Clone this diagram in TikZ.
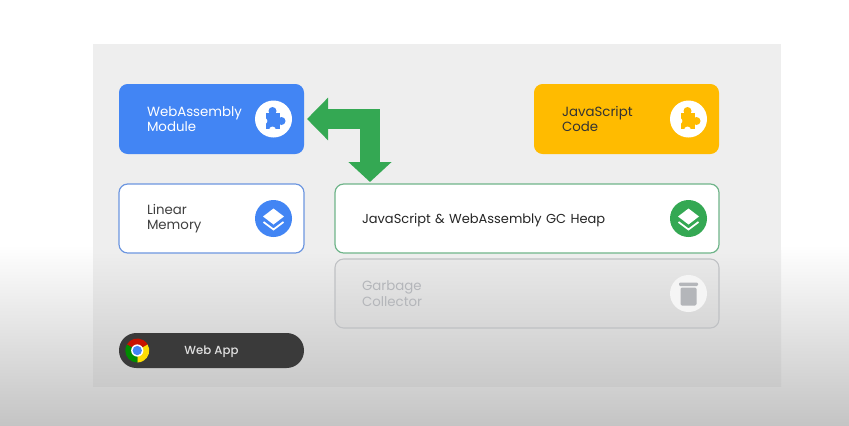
\documentclass[tikz,border=0pt]{standalone}
\usepackage{fontspec}
\setmainfont{Poppins}
\newfontfamily\appfont{Poppins Medium}
\usepackage{xcolor}
\usetikzlibrary{positioning,arrows.meta,calc}
\definecolor{wasmblue}{HTML}{4285F4}
\definecolor{jsyellow}{HTML}{FFBB00}
\definecolor{heapgreen}{HTML}{34A853}
\definecolor{heapline}{HTML}{6FB58A}
\definecolor{memline}{HTML}{6C96E0}
\definecolor{gcline}{HTML}{BFC1C4}
\definecolor{gctext}{HTML}{B4B6BA}
\definecolor{pillgrey}{HTML}{3A3A3A}
\begin{document}
\begin{tikzpicture}[
  x=0.75pt,y=-0.75pt,
  card/.style={rounded corners=6.5pt,minimum height=52.5pt,minimum width=138.75pt,text width=96.75pt,inner xsep=21pt,inner ysep=0pt,outer sep=0pt,align=left,font=\fontsize{10}{11.7}\selectfont},
  thin card/.style={card,minimum height=51.75pt},
  wide/.style={thin card,minimum width=288pt,text width=247.5pt,inner xsep=20.25pt},
  iconbg/.style={circle,minimum size=27.75pt,inner sep=0pt,outer sep=0pt},
  flow/.style={{Triangle[length=15.75pt,width=31pt]}-{Triangle[length=15pt,width=31.5pt]},heapgreen,line width=15.5pt,shorten <=2.25pt},
  pics/puzzle/.style={code={
    \fill[#1] (-8,-6) rectangle (6,10);
    \fill[#1] (-1,-8) circle[radius=3pt];
    \fill[#1] (8,2) circle[radius=3pt];
    \fill[white] (-1,11) circle[radius=2.6pt];
    \fill[white] (-9,2) circle[radius=2.2pt];
  }},
  pics/layers/.style={code={
    \fill[white] (0,-10) -- (10.5,-2) -- (0,6) -- (-10.5,-2) -- cycle;
    \draw[white,line width=1.3pt] (-10,3.5) -- (0,11) -- (10,3.5);
  }},
  pics/trash/.style={code={
    \fill[gctext,rounded corners=1pt] (-8,-6) rectangle (8,12);
    \fill[gctext,rounded corners=0.8pt] (-9.5,-11) rectangle (9.5,-7.5);
  }},
  pics/chromeball/.style={code={
    \fill[red!75!black!85!orange] (0,0) -- (150:9pt) arc[start angle=150,end angle=30,radius=9pt] -- cycle;
    \fill[yellow!80!orange] (0,0) -- (30:9pt) arc[start angle=30,end angle=-90,radius=9pt] -- cycle;
    \fill[green!55!black] (0,0) -- (-90:9pt) arc[start angle=-90,end angle=-210,radius=9pt] -- cycle;
    \fill[white] (0,0) circle[radius=4.6pt];
    \fill[wasmblue] (0,0) circle[radius=3.5pt];
  }}
]
\useasboundingbox (0,0) rectangle (849,425);
% backdrop
\fill[white] (0,0) rectangle (849,246);
\shade[top color=white,bottom color=black!23] (0,245) rectangle (849,425);
\fill[black!6.5] (93,44) rectangle (781,251);
\shade[top color=black!6.5,bottom color=black!21] (93,250) rectangle (781,386);

% cards
\node[card,fill=wasmblue,text=white,anchor=north west] (wasm) at (119,84) {WebAssembly\\Module};
\node[card,fill=jsyellow,text=black!80,right=172.5pt of wasm] (js) {JavaScript\\Code};
\node[thin card,fill=white,draw=memline,line width=0.9pt,text=black!75,below=22.5pt of wasm] (mem) {Linear\\Memory};
\node[wide,fill=white,draw=heapline,line width=0.9pt,text=black!85,text depth=0pt,font=\fontsize{9.75}{11.7}\selectfont,right=23.25pt of mem] (heap) {JavaScript \& WebAssembly GC Heap};
\node[wide,top color=black!9,bottom color=black!16,draw=gcline,line width=0.8pt,text=gctext,below=4.5pt of heap] (gc) {Garbage\\Collector};
\node[rounded corners=13pt,fill=pillgrey,minimum height=26.25pt,minimum width=138.75pt,inner sep=0pt,outer sep=0pt,text=black!12,text depth=0pt,font=\fontsize{8.8}{11}\appfont,below=60pt of mem] (app) {Web App};

% icons
\node[iconbg,fill=white,left=9pt of wasm.east,anchor=east] (wasmicon) {};
\node[iconbg,fill=white,left=9pt of js.east,anchor=east] (jsicon) {};
\node[iconbg,fill=wasmblue,left=9pt of mem.east,anchor=east] (memicon) {};
\node[iconbg,fill=heapgreen,left=9pt of heap.east,anchor=east] (heapicon) {};
\node[iconbg,fill=black!4,left=9pt of gc.east,anchor=east] (gcicon) {};
\node[circle,minimum size=18pt,inner sep=0pt,right=4.5pt of app.west,anchor=west] (chrome) {};
\pic at (wasmicon) {puzzle=wasmblue};
\pic at (jsicon) {puzzle=jsyellow};
\pic at (memicon) {layers};
\pic at (heapicon) {layers};
\pic at (gcicon) {trash};
\pic at (chrome) {chromeball};

% two way arrow
\coordinate[right=26.25pt of heap.north west] (heaptop);
\draw[flow] (wasm.east) -| ([yshift=1.5pt]heaptop);
\end{tikzpicture}
\end{document}
